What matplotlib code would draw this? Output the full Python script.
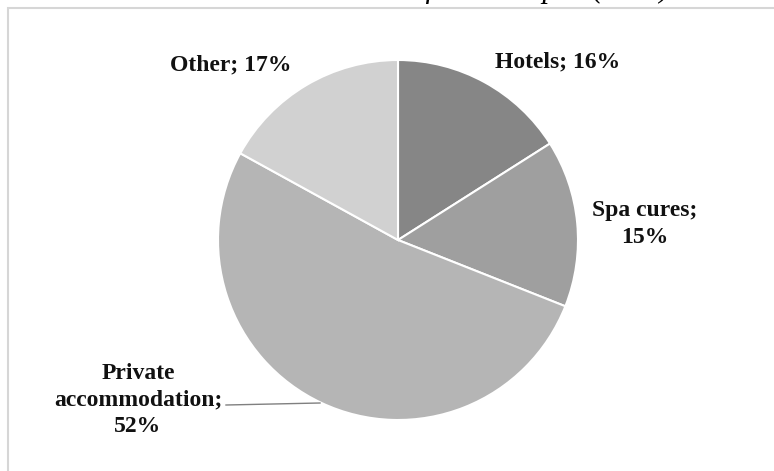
import matplotlib
matplotlib.use("Agg")
import matplotlib.pyplot as plt
from matplotlib.patches import Rectangle

categories = ["Hotels", "Spa cures", "Private accommodation", "Other"]
shares = [16, 15, 52, 17]
colors = ["#868686", "#9f9f9f", "#b5b5b5", "#d1d1d1"]
title = "Accommodation structure of Slovak spas (in %)"

W, H = 774, 471
fig = plt.figure(figsize=(W / 100, H / 100), dpi=100)
ax = fig.add_axes([0, 0, 1, 1])

cx, cy, r = 398, H - 240, 180
ax.pie(shares, colors=colors, startangle=90, counterclock=False,
       center=(cx, cy), radius=r, frame=True,
       wedgeprops=dict(edgecolor="white", linewidth=1.5))
ax.set_xlim(0, W)
ax.set_ylim(0, H)
ax.set_aspect("auto")
ax.axis("off")

# frame
ax.add_patch(Rectangle((7.5, -20), W, H - 8 + 20, fill=False,
                       edgecolor="#d6d6d6", linewidth=1.5))

font = dict(family="Liberation Serif", fontweight="bold", fontsize=17,
            color="#111111", ha="center", va="center", linespacing=1.32)
ax.text(558, H - 62, f"{categories[0]}; {shares[0]}%", **font)
ax.text(645, H - 224, f"{categories[1]};\n{shares[1]}%", **font)
ax.text(138, H - 400, f"Private\naccommodation;\n{shares[2]}%", **font)
ax.text(231, H - 65, f"{categories[3]}; {shares[3]}%", **font)
ax.plot([226, 320], [H - 405, H - 403], color="#808080", linewidth=1)

ax.text(670, H + 3, title, family="Liberation Serif", style="italic",
        fontsize=22, ha="right", va="baseline", color="black")

fig.savefig("out.png", dpi=100)
